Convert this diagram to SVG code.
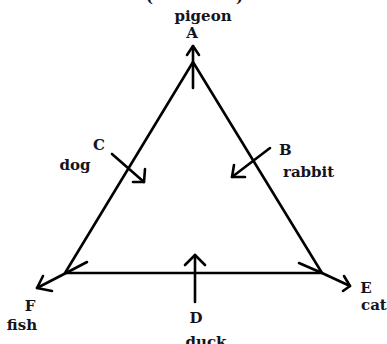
<svg xmlns="http://www.w3.org/2000/svg" width="387" height="344" viewBox="0 0 387 344">
<style>
.t{font-family:"DejaVu Serif","Liberation Serif",serif;font-weight:bold;font-size:15px;fill:#141420}
.l{fill:none;stroke:#000;stroke-width:2.6;stroke-linecap:round;stroke-linejoin:round}
</style>
<rect width="387" height="344" fill="#fff"/>
<g id="connectors">
<polygon class="l" points="193,62 65,273 322,273"/>
<polyline class="l" points="193,88 193,46"/>
<polyline class="l" points="187,55 193,46 199,55"/>
<polyline class="l" points="195,302 195,255"/>
<polyline class="l" points="185,265 195,255 205,265"/>
<polyline class="l" points="112,154 144,182"/>
<polyline class="l" points="145,169 144,182 133,182"/>
<polyline class="l" points="270,148 232,177"/>
<polyline class="l" points="234,165 232,177 245,177"/>
<polyline class="l" points="87,262 66,273 37,288"/>
<polyline class="l" points="43,276 37,288 52,291"/>
<polyline class="l" points="299,263 322,273 350,286"/>
<polyline class="l" points="344,276 350,286 343,291"/>
</g>
<g id="top"><text class="t" x="146" y="2">(</text><text class="t" x="236" y="2">)</text></g>
<g id="A"><text class="t" x="203" y="21" text-anchor="middle">pigeon</text><text class="t" x="192" y="38" text-anchor="middle">A</text></g>
<g id="B"><text class="t" x="279" y="155">B</text><text class="t" x="283" y="177">rabbit</text></g>
<g id="C"><text class="t" x="99" y="150" text-anchor="middle">C</text><text class="t" x="75" y="170" text-anchor="middle">dog</text></g>
<g id="D"><text class="t" x="196" y="323" text-anchor="middle">D</text><text class="t" x="206" y="347" text-anchor="middle">duck</text></g>
<g id="E"><text class="t" x="366" y="293" text-anchor="middle">E</text><text class="t" x="361" y="310">cat</text></g>
<g id="F"><text class="t" x="30" y="311" text-anchor="middle">F</text><text class="t" x="22" y="330" text-anchor="middle">fish</text></g>
</svg>
